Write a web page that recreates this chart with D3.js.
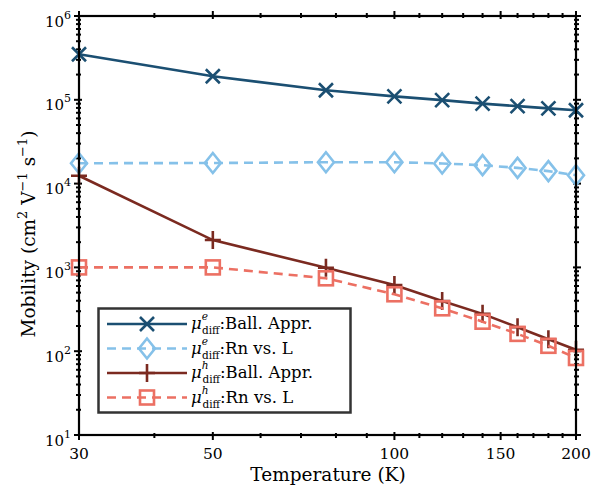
<!DOCTYPE html>
<html>
<head>
<meta charset="utf-8">
<script src="https://cdn.jsdelivr.net/npm/d3@7"></script>
<style>
  html, body { margin: 0; padding: 0; background: #fff; }
  svg { display: block; }
  text { font-family: "DejaVu Serif", "Liberation Serif", serif; fill: #000; }
</style>
</head>
<body>
<svg id="chart" width="606" height="491"></svg>
<script>
// Temperatures (K)
const temperature = [30, 50, 77, 100, 120, 140, 160, 180, 200];
// Mobility values (cm^2 V^-1 s^-1)
const muE_ball = [350000, 191000, 130000, 110000, 99000, 90000, 84000, 79000, 75000];
const muE_rn   = [17500, 17600, 18000, 18000, 17400, 16600, 15400, 14100, 12600];
const muH_ball = [12400, 2120, 990, 617, 398, 279, 193, 139, 104];
const muH_rn   = [1000, 1000, 741, 478, 325, 225, 161, 116, 83];

const xMajor = [30, 50, 100, 150, 200];
const xMinor = [40, 60, 70, 80, 90, 110, 120, 130, 140, 160, 170, 180, 190];
const yDecades = [1, 2, 3, 4, 5, 6];

const series = [
  { name: "e", method: "Ball. Appr.", values: muE_ball, color: "#1b4f72", dash: null, marker: "x" },
  { name: "e", method: "Rn vs. L", values: muE_rn, color: "#85c1e9", dash: "9,6", marker: "diamond" },
  { name: "h", method: "Ball. Appr.", values: muH_ball, color: "#7b2a20", dash: null, marker: "plus" },
  { name: "h", method: "Rn vs. L", values: muH_rn, color: "#ec7063", dash: "9,6", marker: "square" }
];

const svg = d3.select("#chart");
const pL = 79, pR = 576, pT = 16, pB = 435;

const x = d3.scaleLog().domain([30, 200]).range([pL, pR]);
const y = d3.scaleLog().domain([10, 1e6]).range([pB, pT]);

// Minor log ticks on the y axis
const yMinor = [];
yDecades.slice(0, -1).forEach(d => {
  for (let k = 2; k <= 9; k++) yMinor.push(k * Math.pow(10, d));
});

const g = svg.append("g");

function inoutTicks(sel, side, vals, inLen, outLen) {
  // ticks crossing the frame line
  vals.forEach(v => {
    if (side === "bottom") {
      sel.append("line").attr("x1", x(v)).attr("x2", x(v))
        .attr("y1", pB - inLen).attr("y2", pB + outLen);
    } else if (side === "top") {
      sel.append("line").attr("x1", x(v)).attr("x2", x(v))
        .attr("y1", pT + inLen).attr("y2", pT - outLen);
    } else if (side === "left") {
      sel.append("line").attr("y1", y(v)).attr("y2", y(v))
        .attr("x1", pL + inLen).attr("x2", pL - outLen);
    } else {
      sel.append("line").attr("y1", y(v)).attr("y2", y(v))
        .attr("x1", pR - inLen).attr("x2", pR + outLen);
    }
  });
}

const ticks = g.append("g").attr("stroke", "#000").attr("stroke-width", 2);
inoutTicks(ticks, "bottom", xMajor, 3, 5);
inoutTicks(ticks, "bottom", xMinor, 2, 3);
inoutTicks(ticks, "top", xMajor, 3, 5);
inoutTicks(ticks, "top", xMinor, 2, 3);
const yMaj = yDecades.map(d => Math.pow(10, d));
inoutTicks(ticks, "left", yMaj, 3, 5);
inoutTicks(ticks, "left", yMinor, 2, 3);
inoutTicks(ticks, "right", yMaj, 3, 5);
inoutTicks(ticks, "right", yMinor, 2, 3);

// X tick labels
g.append("g").selectAll("text").data(xMajor).join("text")
  .attr("x", d => x(d)).attr("y", pB + 23.5)
  .attr("text-anchor", "middle").attr("font-size", 15.5)
  .text(d => d);

// Y tick labels 10^n
const yl = g.append("g").selectAll("text").data(yDecades).join("text")
  .attr("x", pL - 8).attr("y", d => y(Math.pow(10, d)) + 10.5)
  .attr("text-anchor", "end").attr("font-size", 15);
yl.append("tspan").text("10");
yl.append("tspan").attr("dy", -8).attr("font-size", 11).text(d => d);

// Axis titles
g.append("text").attr("x", 328).attr("y", 481)
  .attr("text-anchor", "middle").attr("font-size", 18.5)
  .text("Temperature (K)");

const ylab = g.append("text")
  .attr("transform", "translate(35, 234) rotate(-90)")
  .attr("text-anchor", "middle").attr("font-size", 18.5);
ylab.append("tspan").text("Mobility (cm");
ylab.append("tspan").attr("dy", -8).attr("font-size", 13).text("2");
ylab.append("tspan").attr("dy", 8).text(" V");
ylab.append("tspan").attr("dy", -8).attr("font-size", 13).text("\u22121");
ylab.append("tspan").attr("dy", 8).text(" s");
ylab.append("tspan").attr("dy", -8).attr("font-size", 13).text("\u22121");
ylab.append("tspan").attr("dy", 8).text(")");

// Marker drawing
function drawMarker(sel, type, cx, cy, color) {
  const m = sel.append("g").attr("transform", `translate(${cx},${cy})`)
    .attr("stroke", color).attr("stroke-width", 2.6).attr("fill", "none");
  if (type === "x") {
    m.append("path").attr("d", "M-7,-7L7,7M-7,7L7,-7");
  } else if (type === "plus") {
    m.append("path").attr("d", "M-8,0L8,0M0,-9L0,9");
  } else if (type === "diamond") {
    m.append("path").attr("d", "M0,-10L8,0L0,10L-8,0Z");
  } else if (type === "square") {
    m.append("rect").attr("x", -7).attr("y", -7).attr("width", 14).attr("height", 14);
  }
}

const line = d3.line().x((d, i) => x(temperature[i])).y(d => y(d));

const plot = g.append("g");
series.forEach(s => {
  plot.append("path").datum(s.values)
    .attr("d", line).attr("fill", "none")
    .attr("stroke", s.color).attr("stroke-width", 2.6)
    .attr("stroke-dasharray", s.dash);
  s.values.forEach((v, i) => drawMarker(plot, s.marker, x(temperature[i]), y(v), s.color));
});

// Frame
g.append("rect").attr("x", pL).attr("y", pT)
  .attr("width", pR - pL).attr("height", pB - pT)
  .attr("fill", "none").attr("stroke", "#000").attr("stroke-width", 2.2);

// Legend
const lg = g.append("g");
lg.append("rect").attr("x", 98.5).attr("y", 308.5).attr("width", 252).attr("height", 104)
  .attr("fill", "#fff").attr("stroke", "#333").attr("stroke-width", 2.5);
series.forEach((s, i) => {
  const ly = 324 + i * 24.5;
  lg.append("line").attr("x1", 107).attr("x2", 187).attr("y1", ly).attr("y2", ly)
    .attr("stroke", s.color).attr("stroke-width", 2.6).attr("stroke-dasharray", s.dash);
  drawMarker(lg, s.marker, 147, ly, s.color);
  const t = lg.append("text").attr("x", 191).attr("y", ly + 5).attr("font-size", 16.5);
  t.append("tspan").attr("font-style", "italic").text("\u03bc");
  t.append("tspan").attr("font-style", "italic").attr("font-size", 10.5).attr("dy", -9).text(s.name);
  t.append("tspan").attr("font-size", 10.5).attr("dx", -6).attr("dy", 14).text("diff");
  t.append("tspan").attr("dy", -5).text(":" + s.method);
});
</script>
</body>
</html>
